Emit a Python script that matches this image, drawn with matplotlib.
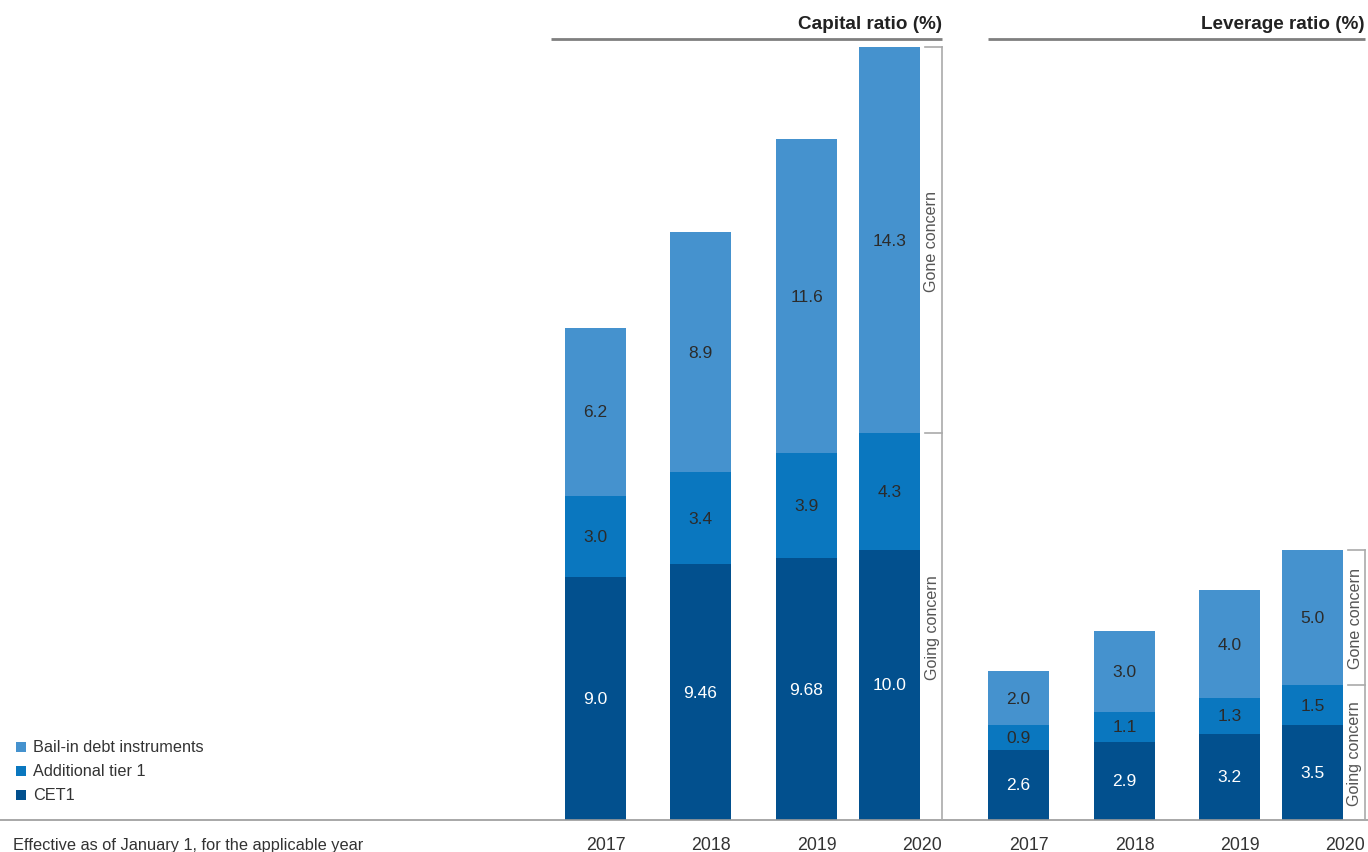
import matplotlib
matplotlib.use("Agg")
import matplotlib.pyplot as plt

plt.rcParams['font.family'] = ['Liberation Sans', 'DejaVu Sans']

years = ["2017", "2018", "2019", "2020"]
cap_cet1 = [9.0, 9.46, 9.68, 10.0]
cap_at1 = [3.0, 3.4, 3.9, 4.3]
cap_bail = [6.2, 8.9, 11.6, 14.3]
lev_cet1 = [2.6, 2.9, 3.2, 3.5]
lev_at1 = [0.9, 1.1, 1.3, 1.5]
lev_bail = [2.0, 3.0, 4.0, 5.0]
cap_labels = [["9.0", "9.46", "9.68", "10.0"], ["3.0", "3.4", "3.9", "4.3"], ["6.2", "8.9", "11.6", "14.3"]]
lev_labels = [["2.6", "2.9", "3.2", "3.5"], ["0.9", "1.1", "1.3", "1.5"], ["2.0", "3.0", "4.0", "5.0"]]
series_names = ["CET1", "Additional tier 1", "Bail-in debt instruments"]

C_CET1 = "#02508E"
C_AT1 = "#0A77BF"
C_BAIL = "#4592CE"
colors = [C_CET1, C_AT1, C_BAIL]
txt_colors = ["white", "#2b2b2b", "#2b2b2b"]

W, H = 1368, 853
fig = plt.figure(figsize=(W / 100, H / 100), dpi=100)
ax = fig.add_axes([0, 0, 1, 1])
scale = 27.03
base_px = 32
ax.set_xlim(0, W)
ax.set_ylim(-base_px / scale, (H - base_px) / scale)
ax.axis('off')

def py(v):
    # convert pixel-from-top to data y
    return (H - v - base_px) / scale

bw = 61
cap_x = [595.5, 700.5, 806.5, 889.5]
lev_x = [1018.5, 1124.5, 1229.5, 1312.5]

def draw(xs, segs, labels):
    bottoms = [0.0] * len(xs)
    for k, (vals, col) in enumerate(zip(segs, colors)):
        ax.bar(xs, vals, width=bw, bottom=bottoms, color=col, linewidth=0)
        for i, (x, v) in enumerate(zip(xs, vals)):
            ax.text(x, bottoms[i] + v / 2, labels[k][i], ha='center', va='center',
                    fontsize=12.5, color=txt_colors[k])
        bottoms = [b + v for b, v in zip(bottoms, vals)]
    return bottoms

cap_tot = draw(cap_x, [cap_cet1, cap_at1, cap_bail], cap_labels)
lev_tot = draw(lev_x, [lev_cet1, lev_at1, lev_bail], lev_labels)

# baseline
ax.plot([0, W], [0, 0], color="#9a9a9a", lw=1.2, solid_capstyle='butt')

# year labels
cap_br = 942
lev_br = 1365
for i, y in enumerate(years):
    xr = cap_x[i] + bw / 2 if i < 3 else cap_br
    ax.text(xr, py(846), y, ha='right', va='center', fontsize=12.8, color="#333333")
    xr = lev_x[i] + bw / 2 if i < 3 else lev_br
    ax.text(xr, py(846), y, ha='right', va='center', fontsize=12.8, color="#333333")

ax.text(13, py(846), "Effective as of January 1, for the applicable year",
        ha='left', va='center', fontsize=11.8, color="#333333")

# headers
ax.plot([551, cap_br], [py(40), py(40)], color="#7f7f7f", lw=2, solid_capstyle='butt')
ax.text(cap_br, py(25), "Capital ratio (%)", ha='right', va='center', fontsize=13.6,
        fontweight='bold', color="#222222")
ax.plot([988, lev_br], [py(40), py(40)], color="#7f7f7f", lw=2, solid_capstyle='butt')
ax.text(lev_br, py(25), "Leverage ratio (%)", ha='right', va='center', fontsize=13.6,
        fontweight='bold', color="#222222")

# brackets
bc = "#aaaaaa"
def bracket(xline, top, split, label_x):
    ax.plot([xline, xline], [0, top], color=bc, lw=1.2)
    ax.plot([xline - 17, xline], [top, top], color=bc, lw=1.2)
    ax.plot([xline - 17, xline], [split, split], color=bc, lw=1.2)
    ax.text(label_x, (top + split) / 2, "Gone concern", rotation=90, ha='center',
            va='center', fontsize=11.6, color="#555555")
    ax.text(label_x, split / 2, "Going concern", rotation=90, ha='center',
            va='center', fontsize=11.6, color="#555555")

bracket(cap_br, cap_tot[3], cap_cet1[3] + cap_at1[3], 932)
bracket(lev_br, lev_tot[3], lev_cet1[3] + lev_at1[3], 1355)

# legend
leg_y = [748, 772, 796]
for name, col, yy in zip(reversed(series_names), reversed(colors), leg_y):
    ax.scatter([21], [py(yy)], marker='s', s=45, color=col, linewidths=0)
    ax.text(33, py(yy), name, ha='left', va='center', fontsize=11.7, color="#333333")

fig.savefig("out.png", dpi=100)
